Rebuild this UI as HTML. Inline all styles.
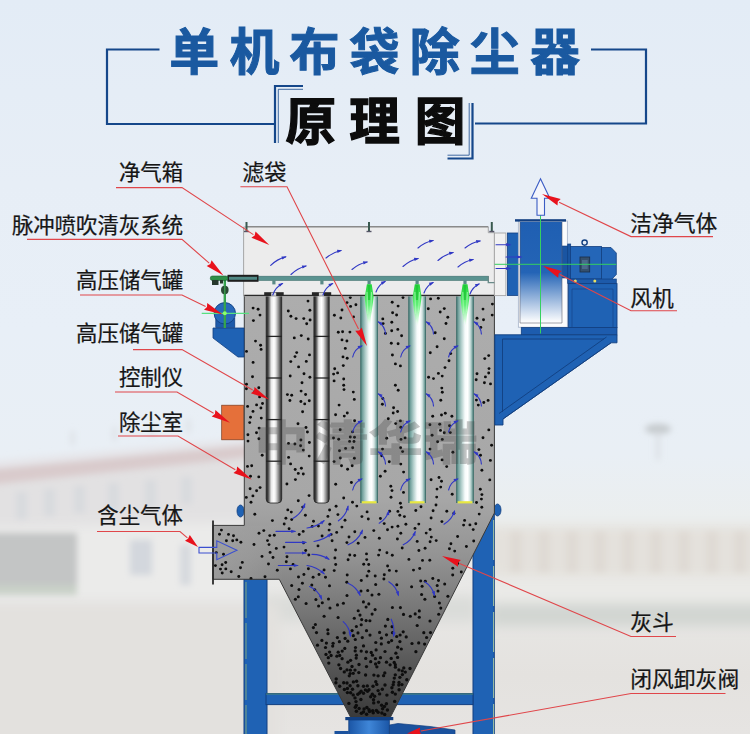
<!DOCTYPE html>
<html lang="zh"><head><meta charset="utf-8"><title>单机布袋除尘器原理图</title>
<style>
html,body{margin:0;padding:0;background:#e8eef5}
body{width:750px;height:734px;overflow:hidden;position:relative;font-family:"Liberation Sans",sans-serif}
svg{position:absolute;left:0;top:0;display:block}
.t{position:absolute;color:transparent;white-space:nowrap;line-height:1;margin:0;pointer-events:none;user-select:none}
</style></head><body>
<svg width="750" height="734" viewBox="0 0 750 734"><defs>
<linearGradient id="bgg" gradientUnits="userSpaceOnUse" x1="0" y1="0" x2="0" y2="734">
<stop offset="0" stop-color="#e3ecf6"/>
<stop offset="0.25" stop-color="#e7eef6"/>
<stop offset="0.45" stop-color="#e8eff7"/>
<stop offset="0.62" stop-color="#e9eff5"/>
<stop offset="0.71" stop-color="#ebeeee"/>
<stop offset="0.82" stop-color="#e8e7e5"/>
<stop offset="0.92" stop-color="#e4e2df"/><stop offset="1" stop-color="#e6e4e2"/>
</linearGradient>
<filter id="bl3" filterUnits="userSpaceOnUse" x="-30" y="380" width="810" height="380"><feGaussianBlur stdDeviation="3.2"/></filter>
<filter id="bl5" filterUnits="userSpaceOnUse" x="-30" y="380" width="810" height="380"><feGaussianBlur stdDeviation="6"/></filter>

<linearGradient id="chg" gradientUnits="userSpaceOnUse" x1="0" y1="295" x2="0" y2="717">
<stop offset="0" stop-color="#adadad"/>
<stop offset="0.48" stop-color="#a7a7a7"/>
<stop offset="0.62" stop-color="#939393"/>
<stop offset="0.75" stop-color="#767676"/>
<stop offset="0.88" stop-color="#565656"/>
<stop offset="1" stop-color="#3a3a3a"/>
</linearGradient>
<linearGradient id="cage" x1="0" y1="0" x2="1" y2="0">
<stop offset="0" stop-color="#2a2a2a"/>
<stop offset="0.10" stop-color="#3c3c3c"/>
<stop offset="0.18" stop-color="#707070"/>
<stop offset="0.32" stop-color="#e6e6e6"/>
<stop offset="0.50" stop-color="#ffffff"/>
<stop offset="0.62" stop-color="#e2e2e2"/>
<stop offset="0.80" stop-color="#8c8c8c"/>
<stop offset="0.92" stop-color="#4a4a4a"/>
<stop offset="1" stop-color="#2a2a2a"/>
</linearGradient>
<linearGradient id="bag" x1="0" y1="0" x2="1" y2="0">
<stop offset="0" stop-color="#477774"/>
<stop offset="0.08" stop-color="#6c9c98"/>
<stop offset="0.28" stop-color="#b0cdca"/>
<stop offset="0.50" stop-color="#f6fbfb"/>
<stop offset="0.66" stop-color="#ffffff"/>
<stop offset="0.80" stop-color="#d4e4e2"/>
<stop offset="0.93" stop-color="#80aaa6"/>
<stop offset="1" stop-color="#477774"/>
</linearGradient>
<linearGradient id="fan" gradientUnits="userSpaceOnUse" x1="0" y1="222" x2="0" y2="323">
<stop offset="0" stop-color="#1f5fb2"/>
<stop offset="0.5" stop-color="#2464b6"/>
<stop offset="0.97" stop-color="#f4f7fb"/>
<stop offset="1" stop-color="#ffffff"/>
</linearGradient>
<linearGradient id="jet" x1="0" y1="0" x2="0" y2="1">
<stop offset="0" stop-color="#22d43a"/>
<stop offset="0.5" stop-color="#62f078"/>
<stop offset="1" stop-color="#c8ffd0" stop-opacity="0.2"/>
</linearGradient>
<linearGradient id="valve" x1="0" y1="0" x2="1" y2="0">
<stop offset="0" stop-color="#1b56a6"/>
<stop offset="0.5" stop-color="#3f86d8"/>
<stop offset="1" stop-color="#1b56a6"/>
</linearGradient>
<linearGradient id="inl" x1="0" y1="0" x2="1" y2="0"><stop offset="0" stop-color="#a2a2a2" stop-opacity="0.7"/><stop offset="0.5" stop-color="#a0a0a0" stop-opacity="0.45"/><stop offset="1" stop-color="#a0a0a0" stop-opacity="0"/></linearGradient>
<clipPath id="chclip"><path d="M244.3,295 H494.4 V513 L390.5,717 H350.5 L279.3,579.3 H213 V525.4 H244.3 Z"/></clipPath>
</defs><rect width="750" height="734" fill="url(#bgg)"/><g filter="url(#bl5)"><polygon points="-20,478 255,450 255,602 -20,602" fill="#e2e1e2"/><polygon points="-20,528 255,522 255,600 -20,600" fill="#ebebea"/><rect x="490" y="526" width="290" height="50" fill="#e4e1dc"/><rect x="490" y="578" width="290" height="22" fill="#eaeae7"/><rect x="490" y="604" width="290" height="22" fill="#d1d5d1"/><rect x="262" y="596" width="215" height="26" fill="#dadcd9"/><rect x="-20" y="604" width="300" height="150" fill="#e3e1de"/></g><g filter="url(#bl3)"><polygon points="-20,470 255,444 255,457 -20,486" fill="#d9cbcc"/><polygon points="-20,462 255,437 255,444 -20,470" fill="#e6e6ea"/><rect x="70" y="431" width="5" height="14" fill="#dfe3e8"/><rect x="112" y="427" width="5" height="14" fill="#dfe3e8"/><rect x="150" y="423" width="5" height="14" fill="#dfe3e8"/><rect x="186" y="419" width="5" height="14" fill="#dfe3e8"/><rect x="16" y="492" width="11" height="27" fill="#d8dade"/><rect x="44" y="489" width="11" height="27" fill="#d8dade"/><rect x="74" y="486" width="11" height="27" fill="#d8dade"/><rect x="108" y="483" width="11" height="27" fill="#d8dade"/><rect x="145" y="480" width="11" height="27" fill="#d8dade"/><rect x="181" y="477" width="11" height="27" fill="#d8dade"/><rect x="-20" y="533" width="97" height="54" fill="#c3c5c5"/><rect x="-20" y="585" width="97" height="10" fill="#c9d1c8"/><rect x="130" y="540" width="22" height="35" fill="#d3d7dd"/><rect x="180" y="545" width="11" height="40" fill="#d6d9de"/><rect x="510" y="532" width="12" height="40" fill="#dfdad4"/><rect x="538" y="532" width="12" height="40" fill="#dfdad4"/><rect x="566" y="532" width="12" height="40" fill="#dfdad4"/><rect x="594" y="532" width="12" height="40" fill="#dfdad4"/><rect x="622" y="532" width="12" height="40" fill="#dfdad4"/><rect x="650" y="532" width="12" height="40" fill="#dfdad4"/><rect x="678" y="532" width="12" height="40" fill="#dfdad4"/><rect x="706" y="532" width="12" height="40" fill="#dfdad4"/><rect x="734" y="532" width="12" height="40" fill="#dfdad4"/><ellipse cx="658" cy="429" rx="13" ry="5" fill="#c4c9cc"/><rect x="656.5" y="430" width="3" height="30" fill="#d6dade"/></g><text x="169.3 229.4 289.5 349.6 409.7 469.8 529.9" y="69.6" font-family="'Liberation Sans','Noto Sans CJK SC',sans-serif" font-size="50" font-weight="bold" fill="#1a59a0" stroke="#1a59a0" stroke-width="1" stroke-linejoin="miter">单机布袋除尘器</text><text x="285.4 349.2 414.8" y="139.7" font-family="'Liberation Sans','Noto Sans CJK SC',sans-serif" font-size="50.6" font-weight="bold" fill="#0c0c0c" stroke="#0c0c0c" stroke-width="1.3" stroke-linejoin="miter">原理图</text><g fill="none" stroke="#15478a" stroke-width="2.2"><path d="M159.5,49.5 H107 V124 H275"/><path d="M591,49.5 H646 V123.5 H475"/><path d="M303,86 H275 V143"/><path d="M447.5,158.5 H472.5 V103"/></g><g fill="none" stroke="#15478a" stroke-width="0.8"><path d="M303,89.3 H278.3 V143"/><path d="M447.5,155.2 H469.2 V103"/></g><g fill="#1f62b4" stroke="#123f80" stroke-width="1"><rect x="244" y="579" width="23" height="160"/><rect x="473" y="505" width="21.3" height="235"/><rect x="266" y="693.6" width="207" height="11"/></g><path d="M266,694 H473" stroke="#5a9a6a" stroke-width="0.8"/><path d="M493.6,520 V734" stroke="#b4d0a0" stroke-width="0.9" stroke-dasharray="40 6"/><path d="M246,582 V734" stroke="#9ab870" stroke-width="0.8" stroke-dasharray="36 5"/><ellipse cx="240.5" cy="511" rx="3.5" ry="6" fill="#1f62b4" stroke="#123f80" stroke-width="0.8"/><ellipse cx="497.5" cy="510" rx="3.5" ry="6" fill="#1f62b4" stroke="#123f80" stroke-width="0.8"/><path d="M244.3,295 H494.4 V513 L390.5,717 H350.5 L279.3,579.3 H213 V525.4 H244.3 Z" fill="url(#chg)"/><rect x="213.5" y="525.9" width="70" height="53" fill="url(#inl)"/><g fill="#0d0d0d"><circle cx="333.1" cy="643.3" r="1.61"/><circle cx="295.0" cy="356.6" r="1.45"/><circle cx="318.4" cy="526.1" r="1.45"/><circle cx="347.2" cy="574.9" r="1.48"/><circle cx="260.6" cy="345.2" r="1.45"/><circle cx="242.3" cy="562.4" r="1.45"/><circle cx="258.9" cy="438.8" r="1.45"/><circle cx="349.9" cy="332.1" r="1.45"/><circle cx="261.1" cy="349.4" r="1.45"/><circle cx="312.2" cy="526.4" r="1.45"/><circle cx="378.1" cy="675.8" r="1.67"/><circle cx="337.6" cy="372.9" r="1.45"/><circle cx="450.7" cy="353.6" r="1.45"/><circle cx="389.6" cy="511.2" r="1.45"/><circle cx="392.5" cy="632.7" r="1.59"/><circle cx="347.4" cy="688.5" r="1.70"/><circle cx="300.6" cy="445.8" r="1.45"/><circle cx="387.6" cy="566.0" r="1.46"/><circle cx="299.2" cy="534.5" r="1.45"/><circle cx="350.6" cy="306.4" r="1.45"/><circle cx="290.9" cy="316.3" r="1.45"/><circle cx="252.5" cy="376.8" r="1.45"/><circle cx="391.2" cy="658.4" r="1.64"/><circle cx="346.9" cy="542.6" r="1.45"/><circle cx="488.1" cy="400.4" r="1.45"/><circle cx="395.7" cy="423.6" r="1.45"/><circle cx="276.3" cy="548.4" r="1.45"/><circle cx="395.4" cy="667.2" r="1.65"/><circle cx="401.9" cy="684.6" r="1.69"/><circle cx="488.7" cy="355.6" r="1.45"/><circle cx="302.6" cy="411.8" r="1.45"/><circle cx="392.4" cy="692.2" r="1.70"/><circle cx="315.4" cy="624.5" r="1.57"/><circle cx="452.7" cy="575.1" r="1.48"/><circle cx="318.6" cy="606.0" r="1.54"/><circle cx="368.7" cy="564.5" r="1.46"/><circle cx="394.3" cy="678.1" r="1.68"/><circle cx="388.6" cy="642.3" r="1.61"/><circle cx="372.1" cy="614.1" r="1.55"/><circle cx="346.9" cy="341.0" r="1.45"/><circle cx="433.1" cy="510.8" r="1.45"/><circle cx="405.3" cy="672.1" r="1.66"/><circle cx="400.8" cy="427.3" r="1.45"/><circle cx="277.3" cy="570.3" r="1.47"/><circle cx="434.6" cy="596.5" r="1.52"/><circle cx="394.7" cy="701.4" r="1.72"/><circle cx="273.0" cy="557.5" r="1.45"/><circle cx="253.1" cy="308.1" r="1.45"/><circle cx="294.3" cy="337.9" r="1.45"/><circle cx="303.3" cy="474.0" r="1.45"/><circle cx="445.0" cy="367.6" r="1.45"/><circle cx="352.1" cy="630.6" r="1.58"/><circle cx="400.4" cy="607.6" r="1.54"/><circle cx="305.4" cy="515.3" r="1.45"/><circle cx="268.5" cy="564.0" r="1.46"/><circle cx="392.0" cy="490.6" r="1.45"/><circle cx="479.2" cy="514.1" r="1.45"/><circle cx="324.1" cy="616.3" r="1.56"/><circle cx="491.6" cy="445.3" r="1.45"/><circle cx="290.6" cy="463.9" r="1.45"/><circle cx="333.6" cy="374.1" r="1.45"/><circle cx="392.2" cy="302.3" r="1.45"/><circle cx="365.7" cy="658.4" r="1.64"/><circle cx="401.3" cy="649.0" r="1.62"/><circle cx="361.7" cy="619.6" r="1.56"/><circle cx="356.3" cy="705.5" r="1.73"/><circle cx="463.6" cy="525.1" r="1.45"/><circle cx="228.5" cy="534.4" r="1.45"/><circle cx="375.8" cy="681.8" r="1.68"/><circle cx="347.6" cy="469.2" r="1.45"/><circle cx="395.4" cy="385.2" r="1.45"/><circle cx="412.0" cy="643.5" r="1.61"/><circle cx="384.4" cy="706.5" r="1.73"/><circle cx="441.5" cy="415.0" r="1.45"/><circle cx="406.8" cy="679.8" r="1.68"/><circle cx="437.0" cy="489.1" r="1.45"/><circle cx="392.1" cy="626.7" r="1.58"/><circle cx="370.7" cy="661.7" r="1.64"/><circle cx="304.7" cy="403.9" r="1.45"/><circle cx="348.1" cy="559.8" r="1.45"/><circle cx="415.0" cy="528.4" r="1.45"/><circle cx="309.5" cy="354.9" r="1.45"/><circle cx="336.2" cy="679.0" r="1.68"/><circle cx="328.5" cy="599.1" r="1.52"/><circle cx="347.9" cy="662.2" r="1.65"/><circle cx="318.0" cy="545.9" r="1.45"/><circle cx="444.3" cy="308.6" r="1.45"/><circle cx="361.0" cy="591.1" r="1.51"/><circle cx="247.5" cy="466.4" r="1.45"/><circle cx="380.5" cy="657.7" r="1.64"/><circle cx="375.1" cy="609.6" r="1.54"/><circle cx="355.9" cy="304.7" r="1.45"/><circle cx="345.0" cy="520.2" r="1.45"/><circle cx="337.5" cy="604.9" r="1.54"/><circle cx="404.4" cy="516.6" r="1.45"/><circle cx="446.8" cy="511.3" r="1.45"/><circle cx="386.5" cy="634.8" r="1.59"/><circle cx="260.9" cy="408.0" r="1.45"/><circle cx="340.3" cy="458.0" r="1.45"/><circle cx="353.2" cy="694.9" r="1.71"/><circle cx="401.0" cy="439.4" r="1.45"/><circle cx="303.9" cy="574.4" r="1.48"/><circle cx="354.6" cy="420.7" r="1.45"/><circle cx="301.1" cy="391.1" r="1.45"/><circle cx="432.7" cy="416.3" r="1.45"/><circle cx="454.7" cy="551.1" r="1.45"/><circle cx="424.6" cy="644.1" r="1.61"/><circle cx="390.8" cy="486.2" r="1.45"/><circle cx="357.9" cy="685.8" r="1.69"/><circle cx="345.6" cy="448.4" r="1.45"/><circle cx="317.5" cy="645.2" r="1.61"/><circle cx="374.6" cy="696.2" r="1.71"/><circle cx="358.2" cy="543.2" r="1.45"/><circle cx="415.2" cy="613.9" r="1.55"/><circle cx="492.2" cy="315.1" r="1.45"/><circle cx="298.6" cy="366.9" r="1.45"/><circle cx="369.0" cy="689.7" r="1.70"/><circle cx="473.7" cy="541.0" r="1.45"/><circle cx="350.1" cy="673.6" r="1.67"/><circle cx="405.1" cy="437.9" r="1.45"/><circle cx="372.7" cy="710.8" r="1.74"/><circle cx="361.1" cy="691.2" r="1.70"/><circle cx="478.9" cy="449.6" r="1.45"/><circle cx="274.3" cy="535.2" r="1.45"/><circle cx="350.4" cy="670.2" r="1.66"/><circle cx="376.9" cy="666.8" r="1.65"/><circle cx="437.2" cy="585.6" r="1.50"/><circle cx="353.4" cy="681.9" r="1.68"/><circle cx="385.0" cy="685.0" r="1.69"/><circle cx="362.3" cy="637.6" r="1.60"/><circle cx="309.2" cy="456.1" r="1.45"/><circle cx="269.8" cy="535.6" r="1.45"/><circle cx="376.8" cy="684.4" r="1.69"/><circle cx="347.0" cy="669.9" r="1.66"/><circle cx="246.4" cy="388.7" r="1.45"/><circle cx="444.3" cy="338.7" r="1.45"/><circle cx="426.2" cy="533.1" r="1.45"/><circle cx="316.5" cy="632.6" r="1.59"/><circle cx="473.2" cy="529.6" r="1.45"/><circle cx="338.9" cy="664.8" r="1.65"/><circle cx="335.7" cy="564.5" r="1.46"/><circle cx="303.2" cy="531.4" r="1.45"/><circle cx="490.4" cy="460.4" r="1.45"/><circle cx="240.5" cy="567.7" r="1.46"/><circle cx="319.0" cy="574.5" r="1.48"/><circle cx="355.0" cy="670.1" r="1.66"/><circle cx="382.6" cy="708.8" r="1.73"/><circle cx="343.7" cy="682.8" r="1.68"/><circle cx="420.7" cy="581.1" r="1.49"/><circle cx="363.5" cy="693.3" r="1.70"/><circle cx="446.7" cy="466.6" r="1.45"/><circle cx="397.7" cy="647.2" r="1.62"/><circle cx="388.3" cy="418.7" r="1.45"/><circle cx="400.1" cy="635.0" r="1.59"/><circle cx="356.4" cy="711.2" r="1.74"/><circle cx="419.3" cy="610.9" r="1.55"/><circle cx="379.3" cy="538.2" r="1.45"/><circle cx="437.6" cy="441.8" r="1.45"/><circle cx="359.0" cy="664.5" r="1.65"/><circle cx="402.4" cy="674.6" r="1.67"/><circle cx="314.8" cy="589.8" r="1.51"/><circle cx="450.3" cy="432.6" r="1.45"/><circle cx="370.0" cy="635.1" r="1.59"/><circle cx="441.9" cy="521.6" r="1.45"/><circle cx="440.7" cy="487.1" r="1.45"/><circle cx="347.8" cy="641.2" r="1.61"/><circle cx="464.6" cy="520.4" r="1.45"/><circle cx="392.4" cy="607.5" r="1.54"/><circle cx="440.2" cy="312.0" r="1.45"/><circle cx="393.7" cy="682.1" r="1.68"/><circle cx="430.6" cy="298.9" r="1.45"/><circle cx="365.4" cy="689.9" r="1.70"/><circle cx="315.9" cy="599.5" r="1.53"/><circle cx="246.3" cy="497.4" r="1.45"/><circle cx="343.4" cy="603.2" r="1.53"/><circle cx="400.6" cy="447.7" r="1.45"/><circle cx="378.1" cy="690.6" r="1.70"/><circle cx="357.8" cy="694.3" r="1.71"/><circle cx="372.0" cy="594.9" r="1.52"/><circle cx="484.8" cy="358.6" r="1.45"/><circle cx="397.9" cy="511.4" r="1.45"/><circle cx="485.4" cy="376.9" r="1.45"/><circle cx="361.3" cy="580.5" r="1.49"/><circle cx="403.2" cy="631.8" r="1.59"/><circle cx="288.3" cy="311.0" r="1.45"/><circle cx="492.4" cy="304.1" r="1.45"/><circle cx="400.8" cy="533.3" r="1.45"/><circle cx="267.5" cy="540.6" r="1.45"/><circle cx="385.4" cy="333.4" r="1.45"/><circle cx="343.7" cy="379.0" r="1.45"/><circle cx="393.2" cy="413.0" r="1.45"/><circle cx="431.1" cy="479.7" r="1.45"/><circle cx="430.3" cy="352.7" r="1.45"/><circle cx="363.5" cy="645.9" r="1.61"/><circle cx="333.5" cy="438.0" r="1.45"/><circle cx="426.6" cy="637.5" r="1.60"/><circle cx="309.3" cy="400.7" r="1.45"/><circle cx="423.8" cy="632.7" r="1.59"/><circle cx="306.1" cy="603.5" r="1.53"/><circle cx="383.6" cy="675.7" r="1.67"/><circle cx="338.3" cy="332.3" r="1.45"/><circle cx="438.5" cy="580.6" r="1.49"/><circle cx="258.8" cy="387.8" r="1.45"/><circle cx="350.6" cy="692.8" r="1.70"/><circle cx="269.0" cy="544.6" r="1.45"/><circle cx="457.6" cy="536.5" r="1.45"/><circle cx="363.5" cy="686.3" r="1.69"/><circle cx="385.4" cy="626.1" r="1.58"/><circle cx="254.6" cy="391.8" r="1.45"/><circle cx="391.3" cy="343.2" r="1.45"/><circle cx="419.7" cy="568.5" r="1.47"/><circle cx="342.1" cy="658.7" r="1.64"/><circle cx="481.9" cy="494.6" r="1.45"/><circle cx="366.1" cy="607.0" r="1.54"/><circle cx="477.0" cy="373.8" r="1.45"/><circle cx="354.5" cy="437.3" r="1.45"/><circle cx="386.4" cy="703.8" r="1.72"/><circle cx="372.3" cy="694.3" r="1.71"/><circle cx="389.4" cy="570.4" r="1.47"/><circle cx="253.1" cy="362.4" r="1.45"/><circle cx="379.6" cy="632.4" r="1.59"/><circle cx="329.8" cy="524.3" r="1.45"/><circle cx="260.0" cy="315.1" r="1.45"/><circle cx="452.8" cy="568.2" r="1.47"/><circle cx="415.8" cy="510.5" r="1.45"/><circle cx="353.3" cy="635.7" r="1.59"/><circle cx="489.8" cy="479.9" r="1.45"/><circle cx="457.7" cy="563.4" r="1.46"/><circle cx="403.0" cy="297.5" r="1.45"/><circle cx="395.3" cy="694.1" r="1.71"/><circle cx="488.7" cy="373.0" r="1.45"/><circle cx="343.7" cy="385.3" r="1.45"/><circle cx="359.1" cy="708.4" r="1.73"/><circle cx="349.8" cy="555.0" r="1.45"/><circle cx="327.9" cy="516.4" r="1.45"/><circle cx="356.4" cy="626.5" r="1.58"/><circle cx="329.6" cy="510.0" r="1.45"/><circle cx="355.5" cy="647.5" r="1.62"/><circle cx="476.2" cy="379.7" r="1.45"/><circle cx="368.8" cy="603.9" r="1.53"/><circle cx="378.9" cy="594.3" r="1.52"/><circle cx="298.3" cy="596.7" r="1.52"/><circle cx="347.0" cy="302.6" r="1.45"/><circle cx="353.3" cy="392.1" r="1.45"/><circle cx="396.8" cy="584.7" r="1.50"/><circle cx="344.8" cy="648.4" r="1.62"/><circle cx="308.2" cy="339.0" r="1.45"/><circle cx="384.7" cy="714.5" r="1.75"/><circle cx="308.0" cy="301.1" r="1.45"/><circle cx="287.0" cy="556.7" r="1.45"/><circle cx="352.2" cy="465.8" r="1.45"/><circle cx="373.2" cy="712.7" r="1.74"/><circle cx="352.5" cy="689.3" r="1.70"/><circle cx="306.3" cy="361.4" r="1.45"/><circle cx="442.3" cy="392.2" r="1.45"/><circle cx="284.2" cy="524.0" r="1.45"/><circle cx="429.9" cy="424.7" r="1.45"/><circle cx="345.1" cy="638.4" r="1.60"/><circle cx="238.8" cy="576.5" r="1.48"/><circle cx="394.2" cy="662.4" r="1.65"/><circle cx="439.4" cy="603.0" r="1.53"/><circle cx="398.2" cy="390.2" r="1.45"/><circle cx="363.7" cy="564.3" r="1.46"/><circle cx="300.9" cy="440.0" r="1.45"/><circle cx="449.5" cy="425.8" r="1.45"/><circle cx="367.5" cy="691.3" r="1.70"/><circle cx="425.1" cy="548.3" r="1.45"/><circle cx="418.9" cy="550.5" r="1.45"/><circle cx="381.4" cy="638.2" r="1.60"/><circle cx="352.5" cy="502.3" r="1.45"/><circle cx="358.0" cy="632.9" r="1.59"/><circle cx="306.0" cy="427.5" r="1.45"/><circle cx="246.5" cy="384.3" r="1.45"/><circle cx="343.0" cy="356.9" r="1.45"/><circle cx="337.4" cy="637.6" r="1.60"/><circle cx="305.7" cy="550.5" r="1.45"/><circle cx="309.9" cy="310.2" r="1.45"/><circle cx="405.9" cy="524.2" r="1.45"/><circle cx="398.1" cy="343.7" r="1.45"/><circle cx="476.4" cy="400.1" r="1.45"/><circle cx="439.7" cy="424.2" r="1.45"/><circle cx="329.1" cy="530.1" r="1.45"/><circle cx="396.6" cy="315.0" r="1.45"/><circle cx="286.9" cy="484.0" r="1.45"/><circle cx="418.7" cy="642.9" r="1.61"/><circle cx="248.0" cy="441.1" r="1.45"/><circle cx="344.3" cy="416.1" r="1.45"/><circle cx="483.8" cy="402.5" r="1.45"/><circle cx="413.5" cy="570.1" r="1.47"/><circle cx="371.2" cy="652.5" r="1.63"/><circle cx="365.0" cy="537.4" r="1.45"/><circle cx="380.4" cy="476.2" r="1.45"/><circle cx="382.5" cy="449.1" r="1.45"/><circle cx="490.5" cy="383.9" r="1.45"/><circle cx="438.4" cy="373.4" r="1.45"/><circle cx="402.6" cy="451.6" r="1.45"/><circle cx="309.4" cy="442.5" r="1.45"/><circle cx="437.1" cy="346.7" r="1.45"/><circle cx="391.9" cy="687.7" r="1.69"/><circle cx="287.8" cy="509.9" r="1.45"/><circle cx="354.8" cy="531.7" r="1.45"/><circle cx="272.4" cy="520.6" r="1.45"/><circle cx="380.4" cy="518.5" r="1.45"/><circle cx="438.3" cy="298.2" r="1.45"/><circle cx="381.3" cy="643.9" r="1.61"/><circle cx="353.5" cy="316.9" r="1.45"/><circle cx="259.6" cy="396.9" r="1.45"/><circle cx="216.3" cy="552.6" r="1.45"/><circle cx="397.8" cy="329.4" r="1.45"/><circle cx="376.4" cy="710.6" r="1.74"/><circle cx="347.0" cy="595.4" r="1.52"/><circle cx="344.4" cy="689.5" r="1.70"/><circle cx="449.4" cy="548.8" r="1.45"/><circle cx="442.3" cy="439.4" r="1.45"/><circle cx="370.7" cy="696.7" r="1.71"/><circle cx="365.6" cy="675.0" r="1.67"/><circle cx="291.3" cy="512.1" r="1.45"/><circle cx="355.0" cy="697.9" r="1.71"/><circle cx="396.3" cy="571.1" r="1.47"/><circle cx="439.0" cy="477.5" r="1.45"/><circle cx="225.8" cy="568.9" r="1.47"/><circle cx="375.6" cy="664.0" r="1.65"/><circle cx="259.0" cy="533.3" r="1.45"/><circle cx="399.8" cy="515.3" r="1.45"/><circle cx="329.5" cy="585.8" r="1.50"/><circle cx="400.4" cy="503.2" r="1.45"/><circle cx="484.4" cy="382.8" r="1.45"/><circle cx="453.9" cy="513.2" r="1.45"/><circle cx="417.2" cy="541.4" r="1.45"/><circle cx="289.1" cy="528.7" r="1.45"/><circle cx="375.2" cy="575.9" r="1.48"/><circle cx="432.8" cy="578.6" r="1.49"/><circle cx="346.8" cy="582.3" r="1.49"/><circle cx="247.9" cy="434.7" r="1.45"/><circle cx="440.5" cy="430.4" r="1.45"/><circle cx="397.9" cy="526.3" r="1.45"/><circle cx="254.0" cy="544.5" r="1.45"/><circle cx="342.2" cy="651.1" r="1.62"/><circle cx="361.9" cy="516.6" r="1.45"/><circle cx="339.7" cy="655.5" r="1.63"/><circle cx="373.7" cy="702.9" r="1.72"/><circle cx="345.3" cy="348.4" r="1.45"/><circle cx="250.1" cy="488.8" r="1.45"/><circle cx="393.2" cy="684.7" r="1.69"/><circle cx="381.6" cy="705.2" r="1.73"/><circle cx="361.2" cy="624.7" r="1.57"/><circle cx="324.1" cy="570.0" r="1.47"/><circle cx="322.1" cy="536.0" r="1.45"/><circle cx="308.4" cy="568.8" r="1.47"/><circle cx="408.9" cy="559.4" r="1.45"/><circle cx="403.8" cy="667.9" r="1.66"/><circle cx="410.3" cy="616.2" r="1.56"/><circle cx="335.6" cy="550.0" r="1.45"/><circle cx="367.3" cy="685.9" r="1.69"/><circle cx="329.6" cy="652.1" r="1.63"/><circle cx="466.4" cy="546.5" r="1.45"/><circle cx="300.9" cy="401.5" r="1.45"/><circle cx="313.1" cy="577.3" r="1.48"/><circle cx="325.5" cy="647.5" r="1.62"/><circle cx="313.4" cy="627.6" r="1.58"/><circle cx="298.3" cy="500.7" r="1.45"/><circle cx="284.0" cy="547.1" r="1.45"/><circle cx="352.7" cy="447.8" r="1.45"/><circle cx="369.9" cy="620.7" r="1.57"/><circle cx="428.6" cy="377.3" r="1.45"/><circle cx="401.6" cy="335.7" r="1.45"/><circle cx="260.1" cy="487.6" r="1.45"/><circle cx="340.8" cy="318.0" r="1.45"/><circle cx="251.0" cy="578.5" r="1.49"/><circle cx="261.3" cy="418.1" r="1.45"/><circle cx="361.2" cy="651.1" r="1.62"/><circle cx="382.8" cy="318.9" r="1.45"/><circle cx="351.4" cy="482.5" r="1.45"/><circle cx="364.1" cy="708.9" r="1.73"/><circle cx="331.1" cy="655.5" r="1.63"/><circle cx="336.1" cy="506.3" r="1.45"/><circle cx="384.8" cy="672.9" r="1.67"/><circle cx="226.4" cy="540.8" r="1.45"/><circle cx="373.8" cy="530.6" r="1.45"/><circle cx="373.0" cy="686.3" r="1.69"/><circle cx="385.1" cy="471.3" r="1.45"/><circle cx="332.7" cy="646.1" r="1.61"/><circle cx="286.3" cy="561.8" r="1.45"/><circle cx="384.2" cy="523.6" r="1.45"/><circle cx="359.6" cy="692.9" r="1.70"/><circle cx="366.1" cy="620.6" r="1.57"/><circle cx="483.5" cy="319.7" r="1.45"/><circle cx="368.8" cy="571.3" r="1.47"/><circle cx="335.7" cy="484.2" r="1.45"/><circle cx="221.4" cy="530.1" r="1.45"/><circle cx="488.8" cy="429.9" r="1.45"/><circle cx="355.3" cy="639.5" r="1.60"/><circle cx="349.0" cy="537.0" r="1.45"/><circle cx="379.7" cy="550.1" r="1.45"/><circle cx="339.1" cy="405.1" r="1.45"/><circle cx="399.9" cy="677.3" r="1.67"/><circle cx="337.9" cy="514.6" r="1.45"/><circle cx="240.9" cy="542.3" r="1.45"/><circle cx="387.4" cy="709.9" r="1.74"/><circle cx="334.1" cy="461.6" r="1.45"/><circle cx="353.2" cy="673.3" r="1.67"/><circle cx="378.4" cy="702.1" r="1.72"/><circle cx="344.1" cy="632.8" r="1.59"/><circle cx="336.7" cy="532.4" r="1.45"/><circle cx="363.5" cy="712.1" r="1.74"/><circle cx="431.1" cy="518.0" r="1.45"/><circle cx="392.4" cy="355.0" r="1.45"/><circle cx="325.5" cy="577.2" r="1.48"/><circle cx="215.4" cy="565.6" r="1.46"/><circle cx="334.7" cy="368.7" r="1.45"/><circle cx="450.9" cy="543.7" r="1.45"/><circle cx="391.7" cy="330.8" r="1.45"/><circle cx="444.7" cy="584.0" r="1.50"/><circle cx="432.1" cy="435.2" r="1.45"/><circle cx="392.3" cy="555.3" r="1.45"/><circle cx="392.6" cy="312.8" r="1.45"/><circle cx="415.9" cy="651.7" r="1.63"/><circle cx="338.2" cy="652.2" r="1.63"/><circle cx="399.0" cy="682.4" r="1.68"/><circle cx="232.7" cy="540.8" r="1.45"/><circle cx="400.8" cy="464.1" r="1.45"/><circle cx="289.9" cy="400.5" r="1.45"/><circle cx="339.5" cy="450.7" r="1.45"/><circle cx="328.0" cy="633.7" r="1.59"/><circle cx="328.3" cy="657.7" r="1.64"/><circle cx="376.1" cy="649.9" r="1.62"/><circle cx="441.5" cy="481.3" r="1.45"/><circle cx="347.2" cy="358.3" r="1.45"/><circle cx="366.9" cy="707.6" r="1.73"/><circle cx="400.4" cy="420.9" r="1.45"/><circle cx="303.8" cy="318.6" r="1.45"/><circle cx="382.3" cy="689.3" r="1.70"/><circle cx="386.5" cy="662.2" r="1.65"/><circle cx="356.6" cy="681.2" r="1.68"/><circle cx="256.6" cy="404.9" r="1.45"/><circle cx="446.0" cy="323.5" r="1.45"/><circle cx="449.0" cy="360.7" r="1.45"/><circle cx="366.5" cy="651.8" r="1.63"/><circle cx="334.1" cy="380.9" r="1.45"/><circle cx="379.6" cy="693.9" r="1.71"/><circle cx="246.5" cy="351.4" r="1.45"/><circle cx="399.1" cy="689.8" r="1.70"/><circle cx="366.5" cy="630.7" r="1.59"/><circle cx="356.4" cy="655.2" r="1.63"/><circle cx="302.4" cy="583.2" r="1.49"/><circle cx="256.5" cy="432.8" r="1.45"/><circle cx="302.0" cy="382.8" r="1.45"/><circle cx="265.0" cy="576.7" r="1.48"/><circle cx="349.6" cy="441.4" r="1.45"/><circle cx="391.8" cy="322.3" r="1.45"/><circle cx="391.0" cy="497.3" r="1.45"/><circle cx="298.5" cy="577.0" r="1.48"/><circle cx="373.5" cy="699.8" r="1.72"/><circle cx="390.1" cy="664.8" r="1.65"/><circle cx="366.6" cy="714.2" r="1.74"/><circle cx="369.0" cy="709.7" r="1.74"/><circle cx="287.4" cy="394.6" r="1.45"/><circle cx="301.3" cy="335.6" r="1.45"/><circle cx="451.9" cy="416.2" r="1.45"/><circle cx="358.2" cy="610.7" r="1.55"/><circle cx="350.3" cy="437.0" r="1.45"/><circle cx="231.2" cy="571.8" r="1.47"/><circle cx="422.1" cy="586.3" r="1.50"/><circle cx="366.5" cy="666.6" r="1.65"/><circle cx="296.1" cy="318.6" r="1.45"/><circle cx="424.9" cy="599.2" r="1.52"/><circle cx="447.9" cy="596.2" r="1.52"/><circle cx="368.3" cy="519.0" r="1.45"/><circle cx="403.5" cy="492.4" r="1.45"/><circle cx="435.2" cy="332.7" r="1.45"/><circle cx="253.4" cy="320.6" r="1.45"/><circle cx="321.9" cy="640.4" r="1.60"/><circle cx="381.7" cy="455.7" r="1.45"/><circle cx="255.5" cy="341.1" r="1.45"/><circle cx="298.0" cy="423.8" r="1.45"/><circle cx="350.6" cy="660.3" r="1.64"/><circle cx="401.2" cy="507.4" r="1.45"/><circle cx="383.1" cy="323.6" r="1.45"/><circle cx="378.6" cy="555.1" r="1.45"/><circle cx="258.8" cy="476.9" r="1.45"/><circle cx="381.9" cy="712.9" r="1.74"/><circle cx="305.6" cy="394.5" r="1.45"/><circle cx="393.6" cy="407.7" r="1.45"/><circle cx="452.2" cy="494.3" r="1.45"/><circle cx="418.8" cy="524.1" r="1.45"/><circle cx="330.0" cy="608.0" r="1.54"/><circle cx="222.2" cy="573.0" r="1.47"/><circle cx="309.1" cy="495.6" r="1.45"/><circle cx="270.1" cy="552.4" r="1.45"/><circle cx="481.9" cy="470.3" r="1.45"/><circle cx="342.6" cy="331.7" r="1.45"/><circle cx="367.1" cy="575.9" r="1.48"/><circle cx="348.9" cy="703.4" r="1.72"/><circle cx="360.9" cy="699.5" r="1.72"/><circle cx="335.9" cy="682.8" r="1.68"/><circle cx="367.7" cy="590.5" r="1.51"/><circle cx="438.0" cy="591.1" r="1.51"/><circle cx="375.7" cy="584.4" r="1.50"/><circle cx="483.0" cy="309.1" r="1.45"/><circle cx="372.5" cy="655.2" r="1.63"/><circle cx="296.7" cy="352.6" r="1.45"/><circle cx="335.6" cy="414.7" r="1.45"/><circle cx="339.7" cy="686.2" r="1.69"/><circle cx="447.8" cy="317.2" r="1.45"/><circle cx="355.3" cy="707.2" r="1.73"/><circle cx="253.0" cy="411.4" r="1.45"/><circle cx="440.8" cy="608.1" r="1.54"/><circle cx="419.3" cy="617.3" r="1.56"/><circle cx="410.0" cy="668.5" r="1.66"/><circle cx="445.3" cy="413.3" r="1.45"/><circle cx="382.4" cy="404.3" r="1.45"/><circle cx="406.2" cy="636.9" r="1.60"/><circle cx="383.9" cy="579.1" r="1.49"/><circle cx="452.9" cy="452.2" r="1.45"/><circle cx="222.1" cy="564.8" r="1.46"/><circle cx="291.7" cy="585.6" r="1.50"/><circle cx="249.7" cy="422.6" r="1.45"/><circle cx="342.0" cy="339.9" r="1.45"/><circle cx="375.8" cy="642.5" r="1.61"/><circle cx="396.7" cy="636.5" r="1.60"/><circle cx="233.5" cy="535.8" r="1.45"/><circle cx="382.8" cy="398.5" r="1.45"/><circle cx="347.3" cy="413.0" r="1.45"/><circle cx="477.0" cy="318.3" r="1.45"/><circle cx="360.0" cy="615.1" r="1.56"/><circle cx="341.5" cy="465.7" r="1.45"/><circle cx="438.7" cy="614.3" r="1.55"/><circle cx="402.3" cy="670.9" r="1.66"/><circle cx="389.3" cy="461.8" r="1.45"/><circle cx="306.7" cy="323.8" r="1.45"/><circle cx="334.2" cy="570.6" r="1.47"/><circle cx="347.4" cy="692.6" r="1.70"/><circle cx="378.1" cy="712.2" r="1.74"/><circle cx="220.5" cy="569.1" r="1.47"/><circle cx="326.0" cy="654.4" r="1.63"/><circle cx="258.1" cy="309.3" r="1.45"/><circle cx="397.6" cy="411.5" r="1.45"/><circle cx="366.7" cy="559.6" r="1.45"/><circle cx="397.6" cy="657.4" r="1.64"/><circle cx="341.9" cy="527.1" r="1.45"/><circle cx="301.4" cy="468.2" r="1.45"/><circle cx="397.4" cy="539.0" r="1.45"/><circle cx="303.3" cy="450.1" r="1.45"/><circle cx="391.6" cy="640.6" r="1.60"/><circle cx="334.4" cy="315.2" r="1.45"/><circle cx="480.3" cy="489.3" r="1.45"/><circle cx="344.0" cy="389.6" r="1.45"/><circle cx="442.2" cy="376.1" r="1.45"/><circle cx="395.3" cy="664.7" r="1.65"/><circle cx="259.1" cy="428.1" r="1.45"/><circle cx="431.3" cy="537.1" r="1.45"/><circle cx="355.2" cy="650.9" r="1.62"/><circle cx="430.1" cy="529.5" r="1.45"/><circle cx="350.1" cy="685.7" r="1.69"/><circle cx="310.1" cy="320.0" r="1.45"/><circle cx="385.0" cy="651.5" r="1.62"/><circle cx="347.0" cy="683.0" r="1.68"/><circle cx="421.6" cy="594.6" r="1.52"/><circle cx="402.2" cy="548.0" r="1.45"/><circle cx="352.0" cy="666.5" r="1.65"/><circle cx="421.0" cy="506.7" r="1.45"/><circle cx="334.9" cy="558.0" r="1.45"/><circle cx="285.9" cy="518.2" r="1.45"/><circle cx="339.4" cy="641.7" r="1.61"/><circle cx="307.4" cy="432.0" r="1.45"/><circle cx="331.1" cy="534.4" r="1.45"/><circle cx="354.0" cy="441.5" r="1.45"/><circle cx="433.5" cy="378.6" r="1.45"/><circle cx="436.0" cy="505.0" r="1.45"/><circle cx="344.3" cy="671.9" r="1.66"/><circle cx="356.0" cy="701.6" r="1.72"/><circle cx="298.3" cy="473.4" r="1.45"/><circle cx="425.3" cy="581.2" r="1.49"/><circle cx="343.7" cy="498.0" r="1.45"/><circle cx="461.3" cy="572.0" r="1.47"/><circle cx="288.6" cy="457.4" r="1.45"/><circle cx="356.2" cy="658.1" r="1.64"/><circle cx="302.7" cy="507.1" r="1.45"/><circle cx="399.9" cy="641.6" r="1.61"/><circle cx="398.8" cy="685.0" r="1.69"/><circle cx="354.3" cy="399.4" r="1.45"/><circle cx="328.8" cy="663.1" r="1.65"/><circle cx="481.4" cy="499.1" r="1.45"/><circle cx="367.1" cy="511.9" r="1.45"/><circle cx="387.5" cy="529.7" r="1.45"/><circle cx="313.5" cy="521.3" r="1.45"/><circle cx="295.4" cy="599.2" r="1.52"/><circle cx="340.6" cy="668.5" r="1.66"/><circle cx="363.4" cy="601.9" r="1.53"/><circle cx="395.9" cy="653.2" r="1.63"/><circle cx="327.8" cy="629.8" r="1.58"/><circle cx="400.4" cy="365.9" r="1.45"/><circle cx="349.3" cy="675.8" r="1.67"/><circle cx="342.0" cy="310.0" r="1.45"/><circle cx="441.8" cy="388.1" r="1.45"/><circle cx="225.7" cy="562.5" r="1.45"/><circle cx="395.3" cy="674.8" r="1.67"/><circle cx="489.0" cy="368.6" r="1.45"/><circle cx="311.8" cy="585.1" r="1.50"/><circle cx="354.4" cy="458.3" r="1.45"/><circle cx="262.2" cy="455.3" r="1.45"/><circle cx="430.0" cy="449.1" r="1.45"/><circle cx="356.8" cy="506.1" r="1.45"/><circle cx="481.8" cy="507.2" r="1.45"/><circle cx="322.3" cy="602.7" r="1.53"/><circle cx="387.8" cy="619.4" r="1.56"/><circle cx="442.1" cy="459.9" r="1.45"/><circle cx="444.3" cy="432.7" r="1.45"/><circle cx="219.5" cy="534.2" r="1.45"/><circle cx="354.3" cy="618.2" r="1.56"/><circle cx="386.7" cy="438.2" r="1.45"/><circle cx="326.4" cy="643.1" r="1.61"/><circle cx="422.5" cy="560.4" r="1.45"/><circle cx="299.0" cy="589.5" r="1.51"/><circle cx="386.9" cy="552.7" r="1.45"/><circle cx="478.3" cy="405.1" r="1.45"/><circle cx="251.0" cy="502.2" r="1.45"/><circle cx="250.5" cy="417.2" r="1.45"/><circle cx="250.5" cy="476.3" r="1.45"/><circle cx="483.0" cy="437.8" r="1.45"/><circle cx="369.5" cy="711.5" r="1.74"/><circle cx="392.1" cy="527.1" r="1.45"/><circle cx="354.7" cy="555.5" r="1.45"/><circle cx="294.9" cy="444.0" r="1.45"/><circle cx="304.0" cy="373.8" r="1.45"/><circle cx="475.8" cy="523.7" r="1.45"/><circle cx="384.3" cy="574.7" r="1.48"/><circle cx="262.5" cy="403.5" r="1.45"/><circle cx="378.9" cy="662.5" r="1.65"/><circle cx="375.4" cy="658.7" r="1.64"/><circle cx="436.7" cy="497.1" r="1.45"/><circle cx="352.5" cy="431.9" r="1.45"/><circle cx="290.2" cy="376.0" r="1.45"/><circle cx="428.3" cy="308.7" r="1.45"/><circle cx="288.5" cy="443.4" r="1.45"/><circle cx="440.8" cy="400.2" r="1.45"/><circle cx="476.5" cy="502.5" r="1.45"/><circle cx="338.1" cy="617.5" r="1.56"/><circle cx="398.1" cy="306.1" r="1.45"/><circle cx="291.7" cy="519.6" r="1.45"/><circle cx="417.2" cy="625.5" r="1.58"/><circle cx="338.7" cy="439.2" r="1.45"/><circle cx="303.4" cy="542.9" r="1.45"/><circle cx="436.2" cy="540.6" r="1.45"/><circle cx="340.2" cy="429.7" r="1.45"/><circle cx="290.8" cy="361.6" r="1.45"/><circle cx="247.6" cy="406.4" r="1.45"/><circle cx="308.8" cy="555.0" r="1.45"/><circle cx="386.9" cy="695.1" r="1.71"/><circle cx="403.6" cy="472.1" r="1.45"/><circle cx="343.3" cy="365.6" r="1.45"/><circle cx="251.7" cy="465.8" r="1.45"/><circle cx="263.8" cy="530.6" r="1.45"/><circle cx="361.4" cy="713.3" r="1.74"/><circle cx="373.9" cy="675.1" r="1.67"/><circle cx="469.9" cy="524.9" r="1.45"/><circle cx="350.3" cy="297.6" r="1.45"/><circle cx="358.8" cy="672.6" r="1.67"/><circle cx="403.5" cy="614.4" r="1.55"/><circle cx="411.6" cy="586.7" r="1.50"/><circle cx="309.9" cy="377.3" r="1.45"/><circle cx="252.9" cy="495.9" r="1.45"/><circle cx="223.5" cy="554.3" r="1.45"/><circle cx="236.8" cy="539.9" r="1.45"/><circle cx="366.5" cy="553.9" r="1.45"/><circle cx="480.5" cy="455.3" r="1.45"/><circle cx="295.4" cy="479.6" r="1.45"/><circle cx="429.8" cy="560.3" r="1.45"/><circle cx="254.8" cy="514.2" r="1.45"/><circle cx="430.5" cy="632.6" r="1.59"/><circle cx="256.6" cy="490.7" r="1.45"/><circle cx="430.1" cy="541.7" r="1.45"/><circle cx="398.9" cy="669.9" r="1.66"/><circle cx="336.9" cy="656.2" r="1.63"/><circle cx="332.1" cy="540.7" r="1.45"/><circle cx="395.4" cy="363.9" r="1.45"/><circle cx="290.4" cy="568.9" r="1.47"/><circle cx="430.0" cy="621.0" r="1.57"/><circle cx="262.0" cy="556.4" r="1.45"/><circle cx="480.8" cy="327.4" r="1.45"/><circle cx="291.7" cy="395.2" r="1.45"/><circle cx="293.1" cy="564.5" r="1.46"/><circle cx="295.2" cy="469.5" r="1.45"/></g><path d="M244.3,295 H494.4 V513 L390.5,717 H350.5 L279.3,579.3 H213 V525.4 H244.3 Z" fill="none" stroke="#3a3a3a" stroke-width="1"/><path d="M213,520.5 V584.5" stroke="#2a2a2a" stroke-width="1.8"/><path d="M266.2,295 V499 Q266.2,503 270.2,503 H277.7 Q281.7,503 281.7,499 V295 Z" fill="url(#cage)" stroke="#222" stroke-width="0.8"/><path d="M266.2,336.4 H281.7" stroke="#222" stroke-width="1.3"/><path d="M266.2,378 H281.7" stroke="#222" stroke-width="1.3"/><path d="M266.2,419.6 H281.7" stroke="#222" stroke-width="1.3"/><path d="M266.2,461.2 H281.7" stroke="#222" stroke-width="1.3"/><path d="M313.9,295 V499 Q313.9,503 317.9,503 H325.2 Q329.2,503 329.2,499 V295 Z" fill="url(#cage)" stroke="#222" stroke-width="0.8"/><path d="M313.9,336.4 H329.2" stroke="#222" stroke-width="1.3"/><path d="M313.9,378 H329.2" stroke="#222" stroke-width="1.3"/><path d="M313.9,419.6 H329.2" stroke="#222" stroke-width="1.3"/><path d="M313.9,461.2 H329.2" stroke="#222" stroke-width="1.3"/><rect x="360.7" y="295.5" width="16.8" height="207.5" fill="url(#bag)"/><rect x="361.7" y="501.2" width="14.8" height="2.2" fill="#e8e840"/><path d="M360.7,295.5 V503 M377.5,295.5 V503" stroke="#3f6f6c" stroke-width="0.9"/><rect x="408.7" y="295.5" width="16.8" height="207.5" fill="url(#bag)"/><rect x="409.7" y="501.2" width="14.8" height="2.2" fill="#e8e840"/><path d="M408.7,295.5 V503 M425.5,295.5 V503" stroke="#3f6f6c" stroke-width="0.9"/><rect x="456.6" y="295.5" width="16.8" height="207.5" fill="url(#bag)"/><rect x="457.6" y="501.2" width="14.8" height="2.2" fill="#e8e840"/><path d="M456.6,295.5 V503 M473.4,295.5 V503" stroke="#3f6f6c" stroke-width="0.9"/><text transform="translate(254.8,459.2) scale(1.17,1)" x="0 51.1 97.5 144.4" y="0" font-family="'Liberation Sans','Noto Sans CJK SC',sans-serif" font-size="46" font-weight="bold" fill="#444" stroke="#444" stroke-width="1.4" opacity="0.30">中清华瑞</text><path d="M243.6,296 V227 H488.3 V232.7 H494.4 V296 Z" fill="#ececec" stroke="#9e9e9e" stroke-width="0.9"/><path d="M247,226.6 H488.3" stroke="#8a8a8a" stroke-width="1.2"/><path d="M244.3,295.4 H494.4" stroke="#2a2a2a" stroke-width="1.4"/><rect x="264.2" y="292.2" width="19.5" height="3.6" fill="#262626"/><rect x="271.2" y="292.6" width="5" height="3.2" fill="#d8d8d8"/><rect x="311.9" y="292.2" width="19.30000000000001" height="3.6" fill="#262626"/><rect x="318.9" y="292.6" width="5" height="3.2" fill="#d8d8d8"/><path d="M246.5,222 V232" stroke="#3a5a50" stroke-width="2"/><path d="M244.0,231.5 H249.0" stroke="#556" stroke-width="1.4"/><path d="M369,222 V232" stroke="#3a5a50" stroke-width="2"/><path d="M366.5,231.5 H371.5" stroke="#556" stroke-width="1.4"/><path d="M491.8,222 V232" stroke="#3a5a50" stroke-width="2"/><path d="M489.3,231.5 H494.3" stroke="#556" stroke-width="1.4"/><rect x="494.4" y="233" width="11.5" height="62.6" fill="#f1f1f1" stroke="#a5a5a5" stroke-width="0.9"/><rect x="227.5" y="276.2" width="261" height="4.2" fill="#5a9390" stroke="#3f6f6e" stroke-width="0.6"/><path d="M488.3,276.2 V282.6 H494.4" fill="none" stroke="#6a8a88" stroke-width="1.4"/><rect x="227.5" y="274.8" width="31" height="7" fill="#1e1e1e"/><rect x="229" y="276.8" width="28" height="3" fill="#4f8884"/><rect x="272.29999999999995" y="280.2" width="3.2" height="4.2" fill="#5a8a87"/><rect x="320.29999999999995" y="280.2" width="3.2" height="4.2" fill="#5a8a87"/><rect x="367.5" y="280.2" width="3.2" height="4.2" fill="#5a8a87"/><rect x="415.5" y="280.2" width="3.2" height="4.2" fill="#5a8a87"/><rect x="463.4" y="280.2" width="3.2" height="4.2" fill="#5a8a87"/><path d="M366.90000000000003,284.3 L364.7,297 L365.7,308 L367.1,318 L367.90000000000003,325 L368.90000000000003,319 L369.90000000000003,326 L370.90000000000003,317 L372.5,306 L373.7,297 L371.7,284.3 Z" fill="url(#jet)"/><path d="M369.0,285 V300" stroke="#1cc434" stroke-width="2.2" opacity="0.75"/><path d="M367.0,292 L367.7,314 M371.6,292 L370.7,312" stroke="#b8fcc0" stroke-width="0.9" opacity="0.75"/><path d="M414.8,284.3 L412.59999999999997,297 L413.59999999999997,308 L415.0,318 L415.8,325 L416.8,319 L417.8,326 L418.8,317 L420.4,306 L421.59999999999997,297 L419.59999999999997,284.3 Z" fill="url(#jet)"/><path d="M416.9,285 V300" stroke="#1cc434" stroke-width="2.2" opacity="0.75"/><path d="M414.9,292 L415.59999999999997,314 M419.5,292 L418.59999999999997,312" stroke="#b8fcc0" stroke-width="0.9" opacity="0.75"/><path d="M462.70000000000005,284.3 L460.5,297 L461.5,308 L462.90000000000003,318 L463.70000000000005,325 L464.70000000000005,319 L465.70000000000005,326 L466.70000000000005,317 L468.3,306 L469.5,297 L467.5,284.3 Z" fill="url(#jet)"/><path d="M464.8,285 V300" stroke="#1cc434" stroke-width="2.2" opacity="0.75"/><path d="M462.8,292 L463.5,314 M467.40000000000003,292 L466.5,312" stroke="#b8fcc0" stroke-width="0.9" opacity="0.75"/><rect x="507.5" y="233" width="11" height="62.4" fill="#1f62b4" stroke="#123f80" stroke-width="0.8"/><rect x="518.3" y="221" width="49" height="106.2" fill="#fbfcfd" stroke="#9aa8c0" stroke-width="0.7"/><rect x="520" y="222" width="42" height="101" fill="url(#fan)"/><path d="M520,222 V323 H562 V222" fill="none" stroke="#5a5a6a" stroke-width="0.8" opacity="0.7"/><rect x="515" y="219.2" width="51" height="2.4" fill="#123f80"/><rect x="562.3" y="246" width="6" height="32" fill="#1a55a2" stroke="#123f80" stroke-width="0.6"/><rect x="567.7" y="244" width="3" height="35.5" fill="#1a55a2" stroke="#123f80" stroke-width="0.7"/><rect x="570.5" y="246.5" width="31" height="32.5" fill="#2466b8" stroke="#123f80" stroke-width="0.8"/><path d="M601.5,247.5 H611 L616.3,253 V274.5 L611,280 H601.5 Z" fill="#2466b8" stroke="#123f80" stroke-width="0.8"/><rect x="580" y="257" width="9.7" height="15" fill="#35506e" stroke="#1a2d48" stroke-width="0.8"/><rect x="582" y="260" width="5.7" height="9" fill="#4a6a8c"/><circle cx="584.6" cy="242.6" r="2.6" fill="none" stroke="#123f80" stroke-width="1.4"/><rect x="567.7" y="279" width="48.6" height="4.6" fill="#1d5aaa" stroke="#123f80" stroke-width="0.7"/><circle cx="575.3" cy="281" r="1.5" fill="#e8e060"/><circle cx="594.8" cy="281" r="1.5" fill="#e8e060"/><rect x="568.3" y="283.6" width="48.7" height="44" fill="#1f62b4" stroke="#123f80" stroke-width="0.9"/><path d="M572,289 H613 M572,289 V327 M613,289 V327" fill="none" stroke="#123f80" stroke-width="0.7" opacity="0.8"/><rect x="521.3" y="327.6" width="95.7" height="7.2" fill="#1d5cae" stroke="#123f80" stroke-width="0.8"/><path d="M494.8,334.8 H617 V342.8 H611 L503,419 V425 H494.8 Z" fill="#1f62b4" stroke="#123f80" stroke-width="0.9"/><path d="M502.5,339 V412 M502.5,339 H604 M606.5,337 L499,413.5 M611,342.8 L503,419" fill="none" stroke="#123f80" stroke-width="0.9"/><path d="M540.5,210 V333.5" stroke="#35d060" stroke-width="1"/><path d="M494.6,264.3 H616.3" stroke="#35d060" stroke-width="1"/><path d="M540.5,178.8 L549.8,198.3 H544.5 V215.2 H537 V198.3 H531.3 Z" fill="#f3f5fb" stroke="#3b5cc4" stroke-width="1.1" stroke-linejoin="miter"/><path d="M213,328 H244 V357 H238 L213,338 Z" fill="#1f62b4" stroke="#123f80" stroke-width="0.8"/><rect x="215.8" y="318.5" width="19" height="9" fill="#1d5aaa" stroke="#123f80" stroke-width="0.7"/><circle cx="224.8" cy="313.3" r="10.7" fill="#2869ba" stroke="#123f80" stroke-width="0.9"/><path d="M224.8,279 V328" stroke="#2f9a48" stroke-width="2.4"/><ellipse cx="224.8" cy="290" rx="3.8" ry="4.2" fill="#2a4a34"/><path d="M224.8,282 V328" stroke="#3aa852" stroke-width="1.2"/><path d="M201.7,313.3 H249" stroke="#58e080" stroke-width="1.3"/><circle cx="224.8" cy="313.3" r="2" fill="#8cff6a"/><rect x="210.3" y="276" width="17.5" height="4.4" rx="2" fill="#2f8f48" stroke="#1f5f30" stroke-width="0.6"/><rect x="212" y="280" width="6.5" height="5" fill="#26382c"/><rect x="220" y="280" width="3" height="3.5" fill="#26382c"/><rect x="221.7" y="405.2" width="21.8" height="34.6" fill="#e5703a" stroke="#7a3a1c" stroke-width="0.7"/><path d="M199,547.4 H216.8 V540.8 L236.9,550.2 L216.8,559.7 V553 H199 Z" fill="none" stroke="#3b4fd0" stroke-width="1.1"/><rect x="345.3" y="717" width="48" height="3.2" fill="#123f80"/><rect x="348.8" y="720" width="40.5" height="16" fill="url(#valve)" stroke="#123f80" stroke-width="0.8"/><path d="M389.5,725 L398,723.5 L430,726.5 L455,730 V736 H389.5 Z" fill="#1b529e" stroke="#123f80" stroke-width="0.7"/><path d="M334.5,731 H348.8 V736 H334.5 Z" fill="#1b529e"/><path d="M270.7,265.4 Q277.0,259.2 285.6,256.9" fill="none" stroke="#3038c4" stroke-width="1.15" stroke-linecap="round"/><polygon points="286.8,256.6 282.3,259.4 281.5,256.4" fill="#3038c4"/><path d="M291.0,274.5 Q297.3,268.3 305.9,266.0" fill="none" stroke="#3038c4" stroke-width="1.15" stroke-linecap="round"/><polygon points="307.1,265.7 302.6,268.5 301.8,265.5" fill="#3038c4"/><path d="M326.0,258.0 Q332.5,252.3 341.0,250.5" fill="none" stroke="#3038c4" stroke-width="1.15" stroke-linecap="round"/><polygon points="342.2,250.3 337.6,252.9 337.0,249.7" fill="#3038c4"/><path d="M352.0,269.5 Q358.5,263.8 367.0,262.0" fill="none" stroke="#3038c4" stroke-width="1.15" stroke-linecap="round"/><polygon points="368.2,261.8 363.6,264.4 363.0,261.2" fill="#3038c4"/><path d="M403.0,266.5 Q409.5,260.6 418.0,258.5" fill="none" stroke="#3038c4" stroke-width="1.15" stroke-linecap="round"/><polygon points="419.2,258.2 414.7,260.9 413.9,257.8" fill="#3038c4"/><path d="M418.0,248.0 Q424.5,242.3 433.0,240.5" fill="none" stroke="#3038c4" stroke-width="1.15" stroke-linecap="round"/><polygon points="434.2,240.3 429.6,242.9 429.0,239.7" fill="#3038c4"/><path d="M438.0,260.5 Q444.5,254.6 453.0,252.5" fill="none" stroke="#3038c4" stroke-width="1.15" stroke-linecap="round"/><polygon points="454.2,252.2 449.7,254.9 448.9,251.8" fill="#3038c4"/><path d="M465.0,248.0 Q471.6,242.6 480.0,241.0" fill="none" stroke="#3038c4" stroke-width="1.15" stroke-linecap="round"/><polygon points="481.2,240.8 476.6,243.3 476.0,240.1" fill="#3038c4"/><path d="M458.0,267.0 Q464.5,261.3 473.0,259.5" fill="none" stroke="#3038c4" stroke-width="1.15" stroke-linecap="round"/><polygon points="474.2,259.3 469.6,261.9 469.0,258.7" fill="#3038c4"/><path d="M272.8,295.0 Q275.3,287.3 282.4,283.5" fill="none" stroke="#3038c4" stroke-width="1.15" stroke-linecap="round"/><polygon points="283.5,282.9 279.8,286.7 278.3,283.9" fill="#3038c4"/><path d="M323.0,295.0 Q325.4,287.4 332.5,283.5" fill="none" stroke="#3038c4" stroke-width="1.15" stroke-linecap="round"/><polygon points="333.6,282.9 329.9,286.7 328.4,283.9" fill="#3038c4"/><path d="M376.0,292.0 Q378.4,284.9 385.0,281.5" fill="none" stroke="#3038c4" stroke-width="1.15" stroke-linecap="round"/><polygon points="386.1,280.9 382.4,284.7 380.9,281.8" fill="#3038c4"/><path d="M424.0,293.0 Q426.4,285.9 433.0,282.5" fill="none" stroke="#3038c4" stroke-width="1.15" stroke-linecap="round"/><polygon points="434.1,281.9 430.4,285.7 428.9,282.8" fill="#3038c4"/><path d="M470.0,294.0 Q472.5,287.2 479.0,284.0" fill="none" stroke="#3038c4" stroke-width="1.15" stroke-linecap="round"/><polygon points="480.1,283.5 476.3,287.1 474.9,284.2" fill="#3038c4"/><path d="M496.0,244.7 Q503.0,244.7 510.0,244.7" fill="none" stroke="#3038c4" stroke-width="1.15" stroke-linecap="round"/><polygon points="511.2,244.7 506.2,246.3 506.2,243.1" fill="#3038c4"/><path d="M506.0,257.0 Q513.5,257.0 521.0,257.0" fill="none" stroke="#3038c4" stroke-width="1.15" stroke-linecap="round"/><polygon points="522.2,257.0 517.2,258.6 517.2,255.4" fill="#3038c4"/><path d="M496.0,268.5 Q503.0,268.5 510.0,268.5" fill="none" stroke="#3038c4" stroke-width="1.15" stroke-linecap="round"/><polygon points="511.2,268.5 506.2,270.1 506.2,266.9" fill="#3038c4"/><path d="M385.5,334.0 Q385.0,326.2 378.5,322.0" fill="none" stroke="#3038c4" stroke-width="1.15" stroke-linecap="round"/><polygon points="377.5,321.3 382.6,322.7 380.8,325.4" fill="#3038c4"/><path d="M385.5,406.0 Q385.0,398.2 378.5,394.0" fill="none" stroke="#3038c4" stroke-width="1.15" stroke-linecap="round"/><polygon points="377.5,393.3 382.6,394.7 380.8,397.4" fill="#3038c4"/><path d="M385.5,464.0 Q385.0,456.2 378.5,452.0" fill="none" stroke="#3038c4" stroke-width="1.15" stroke-linecap="round"/><polygon points="377.5,451.3 382.6,452.7 380.8,455.4" fill="#3038c4"/><path d="M352.7,357.0 Q354.4,349.2 361.7,346.0" fill="none" stroke="#3038c4" stroke-width="1.15" stroke-linecap="round"/><polygon points="362.8,345.5 358.9,349.0 357.6,346.1" fill="#3038c4"/><path d="M352.7,432.0 Q354.4,424.2 361.7,421.0" fill="none" stroke="#3038c4" stroke-width="1.15" stroke-linecap="round"/><polygon points="362.8,420.5 358.9,424.0 357.6,421.1" fill="#3038c4"/><path d="M352.7,490.0 Q354.4,482.2 361.7,479.0" fill="none" stroke="#3038c4" stroke-width="1.15" stroke-linecap="round"/><polygon points="362.8,478.5 358.9,482.0 357.6,479.1" fill="#3038c4"/><path d="M433.5,334.0 Q433.0,326.2 426.5,322.0" fill="none" stroke="#3038c4" stroke-width="1.15" stroke-linecap="round"/><polygon points="425.5,321.3 430.6,322.7 428.8,325.4" fill="#3038c4"/><path d="M433.5,406.0 Q433.0,398.2 426.5,394.0" fill="none" stroke="#3038c4" stroke-width="1.15" stroke-linecap="round"/><polygon points="425.5,393.3 430.6,394.7 428.8,397.4" fill="#3038c4"/><path d="M433.5,464.0 Q433.0,456.2 426.5,452.0" fill="none" stroke="#3038c4" stroke-width="1.15" stroke-linecap="round"/><polygon points="425.5,451.3 430.6,452.7 428.8,455.4" fill="#3038c4"/><path d="M400.7,357.0 Q402.4,349.2 409.7,346.0" fill="none" stroke="#3038c4" stroke-width="1.15" stroke-linecap="round"/><polygon points="410.8,345.5 406.9,349.0 405.6,346.1" fill="#3038c4"/><path d="M400.7,432.0 Q402.4,424.2 409.7,421.0" fill="none" stroke="#3038c4" stroke-width="1.15" stroke-linecap="round"/><polygon points="410.8,420.5 406.9,424.0 405.6,421.1" fill="#3038c4"/><path d="M400.7,490.0 Q402.4,482.2 409.7,479.0" fill="none" stroke="#3038c4" stroke-width="1.15" stroke-linecap="round"/><polygon points="410.8,478.5 406.9,482.0 405.6,479.1" fill="#3038c4"/><path d="M481.4,334.0 Q480.9,326.2 474.4,322.0" fill="none" stroke="#3038c4" stroke-width="1.15" stroke-linecap="round"/><polygon points="473.4,321.3 478.5,322.7 476.7,325.4" fill="#3038c4"/><path d="M481.4,406.0 Q480.9,398.2 474.4,394.0" fill="none" stroke="#3038c4" stroke-width="1.15" stroke-linecap="round"/><polygon points="473.4,393.3 478.5,394.7 476.7,397.4" fill="#3038c4"/><path d="M481.4,464.0 Q480.9,456.2 474.4,452.0" fill="none" stroke="#3038c4" stroke-width="1.15" stroke-linecap="round"/><polygon points="473.4,451.3 478.5,452.7 476.7,455.4" fill="#3038c4"/><path d="M448.6,357.0 Q450.4,349.2 457.6,346.0" fill="none" stroke="#3038c4" stroke-width="1.15" stroke-linecap="round"/><polygon points="458.7,345.5 454.8,349.0 453.5,346.1" fill="#3038c4"/><path d="M448.6,432.0 Q450.4,424.2 457.6,421.0" fill="none" stroke="#3038c4" stroke-width="1.15" stroke-linecap="round"/><polygon points="458.7,420.5 454.8,424.0 453.5,421.1" fill="#3038c4"/><path d="M448.6,490.0 Q450.4,482.2 457.6,479.0" fill="none" stroke="#3038c4" stroke-width="1.15" stroke-linecap="round"/><polygon points="458.7,478.5 454.8,482.0 453.5,479.1" fill="#3038c4"/><path d="M276.0,531.4 Q285.5,531.4 295.0,531.4" fill="none" stroke="#3038c4" stroke-width="1.15" stroke-linecap="round"/><polygon points="296.2,531.4 291.2,533.0 291.2,529.8" fill="#3038c4"/><path d="M285.6,542.4 Q295.7,542.4 305.8,542.4" fill="none" stroke="#3038c4" stroke-width="1.15" stroke-linecap="round"/><polygon points="307.0,542.4 302.0,544.0 302.0,540.8" fill="#3038c4"/><path d="M285.6,553.0 Q295.7,553.0 305.8,553.0" fill="none" stroke="#3038c4" stroke-width="1.15" stroke-linecap="round"/><polygon points="307.0,553.0 302.0,554.6 302.0,551.4" fill="#3038c4"/><path d="M278.4,565.5 Q288.0,565.5 297.6,565.5" fill="none" stroke="#3038c4" stroke-width="1.15" stroke-linecap="round"/><polygon points="298.8,565.5 293.8,567.1 293.8,563.9" fill="#3038c4"/><path d="M292.8,518.4 Q301.7,513.6 304.8,504.0" fill="none" stroke="#3038c4" stroke-width="1.15" stroke-linecap="round"/><polygon points="305.2,502.9 305.1,508.1 302.1,507.1" fill="#3038c4"/><path d="M307.0,528.0 Q316.6,526.9 324.0,520.8" fill="none" stroke="#3038c4" stroke-width="1.15" stroke-linecap="round"/><polygon points="324.9,520.0 322.1,524.5 320.1,522.0" fill="#3038c4"/><path d="M314.0,541.5 Q323.7,540.2 331.0,533.8" fill="none" stroke="#3038c4" stroke-width="1.15" stroke-linecap="round"/><polygon points="331.9,533.0 329.2,537.5 327.1,535.1" fill="#3038c4"/><path d="M312.0,554.4 Q321.1,554.3 328.8,559.2" fill="none" stroke="#3038c4" stroke-width="1.15" stroke-linecap="round"/><polygon points="329.8,559.8 324.7,558.5 326.5,555.8" fill="#3038c4"/><path d="M307.0,565.5 Q316.7,567.0 324.0,573.6" fill="none" stroke="#3038c4" stroke-width="1.15" stroke-linecap="round"/><polygon points="324.9,574.4 320.1,572.2 322.3,569.9" fill="#3038c4"/><path d="M309.6,586.6 Q318.1,590.4 321.6,599.0" fill="none" stroke="#3038c4" stroke-width="1.15" stroke-linecap="round"/><polygon points="322.1,600.1 318.7,596.1 321.6,594.9" fill="#3038c4"/><path d="M338.4,520.8 Q346.1,515.5 348.0,506.4" fill="none" stroke="#3038c4" stroke-width="1.15" stroke-linecap="round"/><polygon points="348.2,505.2 348.8,510.4 345.7,509.8" fill="#3038c4"/><path d="M348.0,544.8 Q358.1,540.5 362.4,530.4" fill="none" stroke="#3038c4" stroke-width="1.15" stroke-linecap="round"/><polygon points="362.9,529.3 362.4,534.5 359.4,533.3" fill="#3038c4"/><path d="M348.0,583.2 Q356.4,586.8 360.0,595.2" fill="none" stroke="#3038c4" stroke-width="1.15" stroke-linecap="round"/><polygon points="360.5,596.3 357.0,592.3 360.0,591.1" fill="#3038c4"/><path d="M343.2,621.6 Q349.7,627.4 350.4,636.0" fill="none" stroke="#3038c4" stroke-width="1.15" stroke-linecap="round"/><polygon points="350.5,637.2 348.5,632.3 351.7,632.1" fill="#3038c4"/><path d="M379.2,523.2 Q386.4,519.1 388.8,511.2" fill="none" stroke="#3038c4" stroke-width="1.15" stroke-linecap="round"/><polygon points="389.1,510.1 389.2,515.3 386.2,514.4" fill="#3038c4"/><path d="M403.2,544.8 Q411.8,540.7 415.2,531.8" fill="none" stroke="#3038c4" stroke-width="1.15" stroke-linecap="round"/><polygon points="415.6,530.7 415.3,535.9 412.4,534.8" fill="#3038c4"/><path d="M388.8,581.8 Q396.3,586.6 398.4,595.2" fill="none" stroke="#3038c4" stroke-width="1.15" stroke-linecap="round"/><polygon points="398.7,596.4 395.9,591.9 399.0,591.1" fill="#3038c4"/><path d="M391.2,619.2 Q394.9,627.2 393.6,636.0" fill="none" stroke="#3038c4" stroke-width="1.15" stroke-linecap="round"/><polygon points="393.4,637.2 392.6,632.0 395.7,632.5" fill="#3038c4"/><path d="M444.0,524.2 Q451.9,519.8 454.6,511.2" fill="none" stroke="#3038c4" stroke-width="1.15" stroke-linecap="round"/><polygon points="455.0,510.1 455.0,515.3 451.9,514.3" fill="#3038c4"/><path d="M424.8,581.8 Q432.3,586.6 434.4,595.2" fill="none" stroke="#3038c4" stroke-width="1.15" stroke-linecap="round"/><polygon points="434.7,596.4 431.9,591.9 435.0,591.1" fill="#3038c4"/><text x="118.9" y="180.1" font-family="'Liberation Sans','Noto Sans CJK SC',sans-serif" font-size="21.4" fill="#161616" stroke="#161616" stroke-width="0.24">净气箱</text><path d="M116,187.6 H182 L253.4,234.6" fill="none" stroke="#e0464a" stroke-width="1.1"/><polygon points="269.3,245.1 255.5,231.6 254.7,235.5 251.4,237.7" fill="#e8121c"/><text x="11.9" y="233.1" font-family="'Liberation Sans','Noto Sans CJK SC',sans-serif" font-size="21.4" fill="#161616" stroke="#161616" stroke-width="0.24">脉冲喷吹清灰系统</text><path d="M27,239.4 H182 L209.2,263.1" fill="none" stroke="#e0464a" stroke-width="1.1"/><polygon points="223.5,275.6 211.6,260.3 210.3,264.1 206.7,265.9" fill="#e8121c"/><text x="76.1" y="287.6" font-family="'Liberation Sans','Noto Sans CJK SC',sans-serif" font-size="21.4" fill="#161616" stroke="#161616" stroke-width="0.24">高压储气罐</text><path d="M80,295 H182 L205.6,306.4" fill="none" stroke="#e0464a" stroke-width="1.1"/><polygon points="222.7,314.6 207.2,303.0 207.0,307.0 204.0,309.7" fill="#e8121c"/><text x="76.1" y="341.1" font-family="'Liberation Sans','Noto Sans CJK SC',sans-serif" font-size="21.4" fill="#161616" stroke="#161616" stroke-width="0.24">高压储气罐</text><path d="M133,349.6 H182 L252.7,390.1" fill="none" stroke="#e0464a" stroke-width="1.1"/><polygon points="269.2,399.5 254.5,386.9 254.0,390.8 250.9,393.3" fill="#e8121c"/><text x="118.9" y="385.1" font-family="'Liberation Sans','Noto Sans CJK SC',sans-serif" font-size="21.4" fill="#161616" stroke="#161616" stroke-width="0.24">控制仪</text><path d="M115,392 H177 L213.6,413.2" fill="none" stroke="#e0464a" stroke-width="1.1"/><polygon points="230.0,422.7 215.4,410.0 214.9,413.9 211.7,416.4" fill="#e8121c"/><text x="118.9" y="430.1" font-family="'Liberation Sans','Noto Sans CJK SC',sans-serif" font-size="21.4" fill="#161616" stroke="#161616" stroke-width="0.24">除尘室</text><path d="M118,436 H178 L235.3,469.8" fill="none" stroke="#e0464a" stroke-width="1.1"/><polygon points="251.7,479.4 237.2,466.6 236.6,470.5 233.5,472.9" fill="#e8121c"/><text x="97.3" y="523.1" font-family="'Liberation Sans','Noto Sans CJK SC',sans-serif" font-size="21.4" fill="#161616" stroke="#161616" stroke-width="0.24">含尘气体</text><path d="M97,531.5 H180 L187.4,537.9" fill="none" stroke="#e0464a" stroke-width="1.1"/><polygon points="198.0,547.0 189.8,535.1 188.2,538.6 185.0,540.7" fill="#e8121c"/><text x="242.3" y="180.3" font-family="'Liberation Sans','Noto Sans CJK SC',sans-serif" font-size="22" fill="#161616" stroke="#161616" stroke-width="0.24">滤袋</text><path d="M240.4,186.8 H287 L358.5,329.0" fill="none" stroke="#e0464a" stroke-width="1.1"/><polygon points="367.0,346.0 361.8,327.4 359.2,330.4 355.2,330.7" fill="#e8121c"/><text x="630.2" y="230.9" font-family="'Liberation Sans','Noto Sans CJK SC',sans-serif" font-size="21.8" fill="#161616" stroke="#161616" stroke-width="0.24">洁净气体</text><path d="M713,236.6 H631 L559.1,202.2" fill="none" stroke="#e0464a" stroke-width="1.1"/><polygon points="542.0,194.0 557.5,205.5 557.8,201.5 560.7,198.9" fill="#e8121c"/><text x="630.2" y="305.9" font-family="'Liberation Sans','Noto Sans CJK SC',sans-serif" font-size="21.8" fill="#161616" stroke="#161616" stroke-width="0.24">风机</text><path d="M677,310.8 H631 L559.9,274.4" fill="none" stroke="#e0464a" stroke-width="1.1"/><polygon points="543.0,265.7 558.2,277.7 558.6,273.7 561.6,271.1" fill="#e8121c"/><text x="630.2" y="630.2" font-family="'Liberation Sans','Noto Sans CJK SC',sans-serif" font-size="21.8" fill="#161616" stroke="#161616" stroke-width="0.24">灰斗</text><path d="M676,636.5 H631 L459.5,563.4" fill="none" stroke="#e0464a" stroke-width="1.1"/><polygon points="442.0,556.0 458.0,566.8 458.1,562.8 460.9,560.0" fill="#e8121c"/><text x="630.2" y="687.3" font-family="'Liberation Sans','Noto Sans CJK SC',sans-serif" font-size="21.8" fill="#161616" stroke="#161616" stroke-width="0.24">闭风卸灰阀</text><path d="M725.5,693.5 H631 L420.8,731.0" fill="none" stroke="#e0464a" stroke-width="1.1"/><polygon points="407.0,733.5 421.4,734.7 419.7,731.2 420.1,727.4" fill="#e8121c"/></svg>
<div class="t" style="left:168px;top:22px;font-size:52px">单机布袋除尘器</div><div class="t" style="left:285px;top:96px;font-size:51px">原理图</div><div class="t" style="left:119px;top:161px;font-size:21.4px">净气箱</div><div class="t" style="left:12px;top:214px;font-size:21.4px">脉冲喷吹清灰系统</div><div class="t" style="left:76px;top:269px;font-size:21.4px">高压储气罐</div><div class="t" style="left:76px;top:322px;font-size:21.4px">高压储气罐</div><div class="t" style="left:119px;top:366px;font-size:21.4px">控制仪</div><div class="t" style="left:119px;top:411px;font-size:21.4px">除尘室</div><div class="t" style="left:97px;top:504px;font-size:21.4px">含尘气体</div><div class="t" style="left:242px;top:161px;font-size:22px">滤袋</div><div class="t" style="left:630px;top:212px;font-size:21.8px">洁净气体</div><div class="t" style="left:630px;top:287px;font-size:21.8px">风机</div><div class="t" style="left:630px;top:611px;font-size:21.8px">灰斗</div><div class="t" style="left:630px;top:668px;font-size:21.8px">闭风卸灰阀</div>
</body></html>
